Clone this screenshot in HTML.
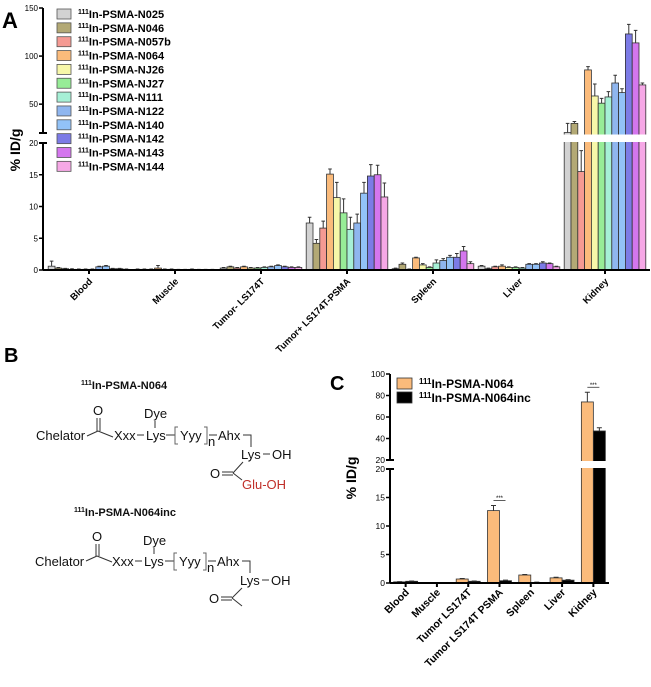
<!DOCTYPE html>
<html><head><meta charset="utf-8"><style>
body{margin:0;background:#fff;}
svg{display:block;font-family:"Liberation Sans",Arial,sans-serif;}
.b{font-weight:bold;}
</style></head><body>
<svg id="fig" width="651" height="687" viewBox="0 0 651 687">
<text x="2" y="28" font-size="22" class="b">A</text>
<text x="4" y="362" font-size="20" class="b">B</text>
<text x="330" y="390" font-size="20" class="b">C</text>
<g id="A"></g>
<g id="C"></g>
<g id="B" font-size="13" fill="#111">
 <text x="81" y="389" font-size="11" class="b"><tspan font-size="7" dy="-4">111</tspan><tspan dy="4">In-PSMA-N064</tspan></text>
 <text x="93" y="415">O</text>
 <line x1="97" y1="418" x2="97" y2="431" stroke="#333"/><line x1="100" y1="418" x2="100" y2="431" stroke="#333"/>
 <line x1="87" y1="436" x2="98" y2="431" stroke="#333"/><line x1="98" y1="431" x2="113" y2="437" stroke="#333"/>
 <text x="36" y="440">Chelator</text>
 <text x="114" y="440">Xxx</text>
 <line x1="137" y1="435" x2="144" y2="435" stroke="#333"/>
 <text x="146" y="440">Lys</text>
 <text x="144" y="418">Dye</text>
 <line x1="155" y1="421" x2="155" y2="428" stroke="#333"/>
 <line x1="166" y1="435" x2="175" y2="435" stroke="#333"/>
 <path d="M178 427 h-3 v17 h3 M204 427 h3 v17 h-3" fill="none" stroke="#666"/>
 <text x="180" y="440">Yyy</text><text x="208" y="446">n</text>
 <line x1="209" y1="435" x2="217" y2="435" stroke="#333"/>
 <text x="218" y="440">Ahx</text>
 <path d="M243 435 h8 v12" fill="none" stroke="#333"/>
 <text x="241" y="459">Lys</text><line x1="263" y1="454" x2="270" y2="454" stroke="#333"/><text x="272" y="459">OH</text>
 <text x="210" y="478">O</text>
 <line x1="222" y1="472" x2="233" y2="472" stroke="#333"/><line x1="222" y1="475" x2="233" y2="475" stroke="#333"/>
 <line x1="233" y1="473" x2="243" y2="462" stroke="#333"/><line x1="233" y1="473" x2="242" y2="480" stroke="#333"/>
 <text x="242" y="489" fill="#c0302a">Glu-OH</text>
 <text x="74" y="516" font-size="11" class="b"><tspan font-size="7" dy="-4">111</tspan><tspan dy="4">In-PSMA-N064inc</tspan></text>
 <text x="92" y="541">O</text>
 <line x1="96" y1="544" x2="96" y2="556" stroke="#333"/><line x1="99" y1="544" x2="99" y2="556" stroke="#333"/>
 <line x1="86" y1="561" x2="97" y2="556" stroke="#333"/><line x1="97" y1="556" x2="112" y2="562" stroke="#333"/>
 <text x="35" y="566">Chelator</text>
 <text x="112" y="566">Xxx</text>
 <line x1="135" y1="561" x2="142" y2="561" stroke="#333"/>
 <text x="144" y="566">Lys</text>
 <text x="143" y="545">Dye</text>
 <line x1="154" y1="548" x2="154" y2="554" stroke="#333"/>
 <line x1="165" y1="561" x2="174" y2="561" stroke="#333"/>
 <path d="M177 553 h-3 v17 h3 M203 553 h3 v17 h-3" fill="none" stroke="#666"/>
 <text x="179" y="566">Yyy</text><text x="207" y="572">n</text>
 <line x1="208" y1="561" x2="216" y2="561" stroke="#333"/>
 <text x="217" y="566">Ahx</text>
 <path d="M242 561 h8 v12" fill="none" stroke="#333"/>
 <text x="240" y="585">Lys</text><line x1="262" y1="580" x2="269" y2="580" stroke="#333"/><text x="271" y="585">OH</text>
 <text x="209" y="603">O</text>
 <line x1="221" y1="597" x2="232" y2="597" stroke="#333"/><line x1="221" y1="600" x2="232" y2="600" stroke="#333"/>
 <line x1="232" y1="598" x2="242" y2="588" stroke="#333"/><line x1="232" y1="598" x2="242" y2="606" stroke="#333"/>
</g>
</svg>
<script>
// ---- Panel A data ----
const organsA = ["Blood","Muscle","Tumor- LS174T","Tumor+ LS174T-PSMA","Spleen","Liver","Kidney"];
const seriesA = ["N025","N046","N057b","N064","NJ26","NJ27","N111","N122","N140","N142","N143","N144"];
const colorsA = ["#d2d2d2","#b3a975","#f59a93","#fbbb7b","#f7f7a9","#97ec97","#a6f0d6","#8fb6ef","#92c2f7","#7c7be6","#d476ee","#f6a8e6"];
const valsBlood = [0.6,0.3,0.2,0.1,0.1,0.1,0.1,0.5,0.6,0.2,0.2,0.1];
const valsMuscle = [0.1,0.1,0.1,0.3,0.1,0.1,0.05,0.05,0.1,0.05,0.05,0.05];
const valsTumorNeg = [0.3,0.5,0.3,0.5,0.3,0.3,0.4,0.5,0.7,0.5,0.4,0.4];
const valsTumorPos = [7.4,4.2,6.6,15.1,11.4,9.0,6.4,7.4,12.1,14.8,15.0,11.5];
const valsSpleen = [0.2,0.9,0.1,1.9,0.8,0.4,1.1,1.5,2.0,2.0,3.0,1.0];
const valsLiver = [0.6,0.2,0.5,0.6,0.4,0.4,0.3,0.9,0.9,1.1,1.0,0.5];
const valsKidney = [20.5,30,15.5,85.6,58.5,51,57.5,72,62,123,113.7,70];
const errBlood = [0.8,0.1,0.05,0.1,0.05,0.05,0.05,0.1,0.1,0.05,0.05,0.05];
const errMuscle = [0.05,0.05,0.05,0.4,0.05,0.05,0.05,0.05,0.05,0.05,0.05,0.05];
const errTumorNeg = [0.1,0.1,0.1,0.1,0.1,0.1,0.1,0.1,0.1,0.1,0.1,0.1];
const errTumorPos = [0.9,0.6,1.1,0.8,2.4,2.2,1.9,1.4,1.7,1.8,1.5,2.2];
const errSpleen = [0.1,0.2,0.05,0.1,0.2,0.1,0.5,0.3,0.3,0.6,0.7,0.3];
const errLiver = [0.1,0.1,0.1,0.2,0.1,0.1,0.1,0.1,0.1,0.2,0.1,0.1];
const errKidney = [9.5,2,3.3,3.4,12.5,5,5.5,8,4,10,13,2];
const ticksLowA = [0,5,10,15,20];
const ticksHighA = [50,100,150];

// ---- Panel C data ----
const organsC = ["Blood","Muscle","Tumor LS174T","Tumor LS174T PSMA","Spleen","Liver","Kidney"];
const seriesC = ["N064","N064inc"];
const colorsC = ["#fbbb7b","#000000"];
const valsC064 = [0.2,0.05,0.7,12.7,1.4,0.9,74];
const valsC064inc = [0.3,0.05,0.3,0.4,0.1,0.5,47];
const errC064 = [0.05,0.02,0.1,0.9,0.1,0.1,9];
const errC064inc = [0.05,0.02,0.05,0.1,0.05,0.1,3];
const ticksLowC = [0,5,10,15,20];
const ticksHighC = [20,40,60,80,100];

const NS="http://www.w3.org/2000/svg";
function mk(parent,tag,attrs,text){const e=document.createElementNS(NS,tag);for(const k in attrs)e.setAttribute(k,attrs[k]);if(text!==undefined)e.textContent=text;parent.appendChild(e);return e;}

function brokenScale(y0,yLowTop,lowMax,yHighBot,yHighTop,highMin,highMax){
  return v=> v<=lowMax ? y0-(v/lowMax)*(y0-yLowTop) : yHighBot-(v-highMin)/(highMax-highMin)*(yHighBot-yHighTop);
}

// ---------- Panel A ----------
(function(){
  const g=document.getElementById('A');
  const axX=43, y0=270, yLowTop=143, yHighBot=133, yHighTop=8, xEnd=650;
  const yS=brokenScale(y0,yLowTop,20,yHighBot,yHighTop,20,150);
  const step=86, x0=89;
  const xC=i=>x0+i*step;
  const bw=6.8;
  const vals=[valsBlood,valsMuscle,valsTumorNeg,valsTumorPos,valsSpleen,valsLiver,valsKidney];
  const errs=[errBlood,errMuscle,errTumorNeg,errTumorPos,errSpleen,errLiver,errKidney];
  organsA.forEach((o,i)=>{
    seriesA.forEach((s,j)=>{
      const v=vals[i][j], e=errs[i][j];
      const x=xC(i)-bw*6+j*bw;
      const yt=yS(v), ye=yS(v+e);
      const r=mk(g,'rect',{x:x,y:yt,width:bw,height:y0-yt,fill:colorsA[j],stroke:'#333','stroke-width':0.8});
      
      
      const eb=mk(g,'path',{d:`M${x+bw/2} ${yt}V${ye}M${x+bw/2-1.8} ${ye}h3.6`,stroke:'#333','stroke-width':1,fill:'none'});
      
      
    });
  });
  const gap=mk(g,'rect',{x:axX-6,y:yHighBot+1.5,width:xEnd-axX+8,height:yLowTop-yHighBot-2.5,fill:'#fff'});
  
  
  const ax=mk(g,'path',{d:`M${axX} ${y0}V${yLowTop}M${axX} ${yHighBot}V${yHighTop}M${axX} ${y0}H${xEnd}`,stroke:'#000','stroke-width':2,fill:'none'});
  
  
  mk(g,'path',{d:`M${axX-4} ${yLowTop}h8M${axX-4} ${yHighBot}h8`,stroke:'#000','stroke-width':2});
  ticksLowA.concat(ticksHighA).forEach(t=>{
    const y=yS(t);
    mk(g,'line',{x1:axX-4,y1:y,x2:axX,y2:y,stroke:'#000','stroke-width':1.5});
    const tx=mk(g,'text',{x:axX-5,y:y+3,'font-size':8,'text-anchor':'end'},t);
    
    
  });
  const yt=mk(g,'text',{x:0,y:0,'font-size':14,'font-weight':'bold','text-anchor':'middle',transform:'translate(20,150) rotate(-90)'},'% ID/g');
  
  
  organsA.forEach((o,i)=>{
    mk(g,'line',{x1:xC(i),y1:y0,x2:xC(i),y2:y0+4,stroke:'#000','stroke-width':2});
    const t=mk(g,'text',{x:0,y:0,'font-size':9.5,'font-weight':'bold','text-anchor':'end',transform:`translate(${xC(i)+4},${y0+12}) rotate(-45)`},o);
    
    
  });
  seriesA.forEach((s,j)=>{
    const y=9+j*13.85;
    const sw=mk(g,'rect',{x:57,y:y,width:14,height:10,fill:colorsA[j],stroke:'#555','stroke-width':0.8});
    
    
    const t=mk(g,'text',{x:78,y:y+9,'font-size':11,'font-weight':'bold'});
    
    
    mk(t,'tspan',{'font-size':7,dy:-4},'111');
    mk(t,'tspan',{dy:4},'In-PSMA-'+s);
  });
})();

// ---------- Panel C ----------
(function(){
  const g=document.getElementById('C');
  const axX=390, y0=583, yLowTop=469, yHighBot=460, yHighTop=374, xEnd=609;
  const yS=brokenScale(y0,yLowTop,20,yHighBot,yHighTop,20,100);
  const step=(xEnd-axX)/7;
  const xC=i=>axX+step*(i+0.5);
  const bw=12;
  const vals=[valsC064,valsC064inc], errs=[errC064,errC064inc];
  organsC.forEach((o,i)=>{
    seriesC.forEach((s,j)=>{
      const v=vals[j][i], e=errs[j][i];
      const x=xC(i)-bw+j*bw;
      const yt=yS(v), ye=yS(v+e);
      const r=mk(g,'rect',{x:x,y:yt,width:bw,height:y0-yt,fill:colorsC[j],stroke:'#333','stroke-width':0.8});
      
      
      const eb=mk(g,'path',{d:`M${x+bw/2} ${yt}V${ye}M${x+bw/2-2.5} ${ye}h5`,stroke:'#333','stroke-width':1,fill:'none'});
      
      
    });
  });
  const gap=mk(g,'rect',{x:axX-6,y:yHighBot+1,width:xEnd-axX+8,height:yLowTop-yHighBot-2,fill:'#fff'});
  
  
  [3,6].forEach(i=>{
    const y=Math.min(yS(valsC064[i]+errC064[i]),yS(valsC064inc[i]+errC064inc[i]))-5;
    mk(g,'line',{x1:xC(i)-6,y1:y,x2:xC(i)+6,y2:y,stroke:'#333','stroke-width':0.8});
    const t=mk(g,'text',{x:xC(i),y:y-0.5,'font-size':6,'text-anchor':'middle'},'***');
    
    
  });
  const ax=mk(g,'path',{d:`M${axX} ${y0}V${yLowTop}M${axX} ${yHighBot}V${yHighTop}M${axX} ${y0}H${xEnd}`,stroke:'#000','stroke-width':2,fill:'none'});
  
  
  mk(g,'path',{d:`M${axX-4} ${yLowTop}h8M${axX-4} ${yHighBot}h8`,stroke:'#000','stroke-width':2});
  ticksLowC.forEach(t=>{
    const y=t===20?yLowTop:yS(t);
    mk(g,'line',{x1:axX-4,y1:y,x2:axX,y2:y,stroke:'#000','stroke-width':1.5});
    const tx=mk(g,'text',{x:axX-5,y:y+3,'font-size':8.5,'text-anchor':'end'},t);
    
    
  });
  ticksHighC.forEach(t=>{
    const y=t===20?yHighBot:yS(t);
    mk(g,'line',{x1:axX-4,y1:y,x2:axX,y2:y,stroke:'#000','stroke-width':1.5});
    const tx=mk(g,'text',{x:axX-5,y:y+3,'font-size':8.5,'text-anchor':'end'},t);
    
    
  });
  const yt=mk(g,'text',{x:0,y:0,'font-size':14,'font-weight':'bold','text-anchor':'middle',transform:'translate(356,478) rotate(-90)'},'% ID/g');
  
  
  organsC.forEach((o,i)=>{
    mk(g,'line',{x1:xC(i),y1:y0,x2:xC(i),y2:y0+4,stroke:'#000','stroke-width':2});
    const t=mk(g,'text',{x:0,y:0,'font-size':10.5,'font-weight':'bold','text-anchor':'end',transform:`translate(${xC(i)+4},${y0+10}) rotate(-45)`},o);
    
    
  });
  seriesC.forEach((s,j)=>{
    const y=378+j*14;
    const sw=mk(g,'rect',{x:397,y:y,width:15,height:11,fill:colorsC[j],stroke:'#333','stroke-width':0.8});
    
    
    const t=mk(g,'text',{x:419,y:y+10,'font-size':12,'font-weight':'bold'});
    
    
    mk(t,'tspan',{'font-size':8,dy:-4},'111');
    mk(t,'tspan',{dy:4},'In-PSMA-'+s);
  });
})();
</script>
</body></html>
